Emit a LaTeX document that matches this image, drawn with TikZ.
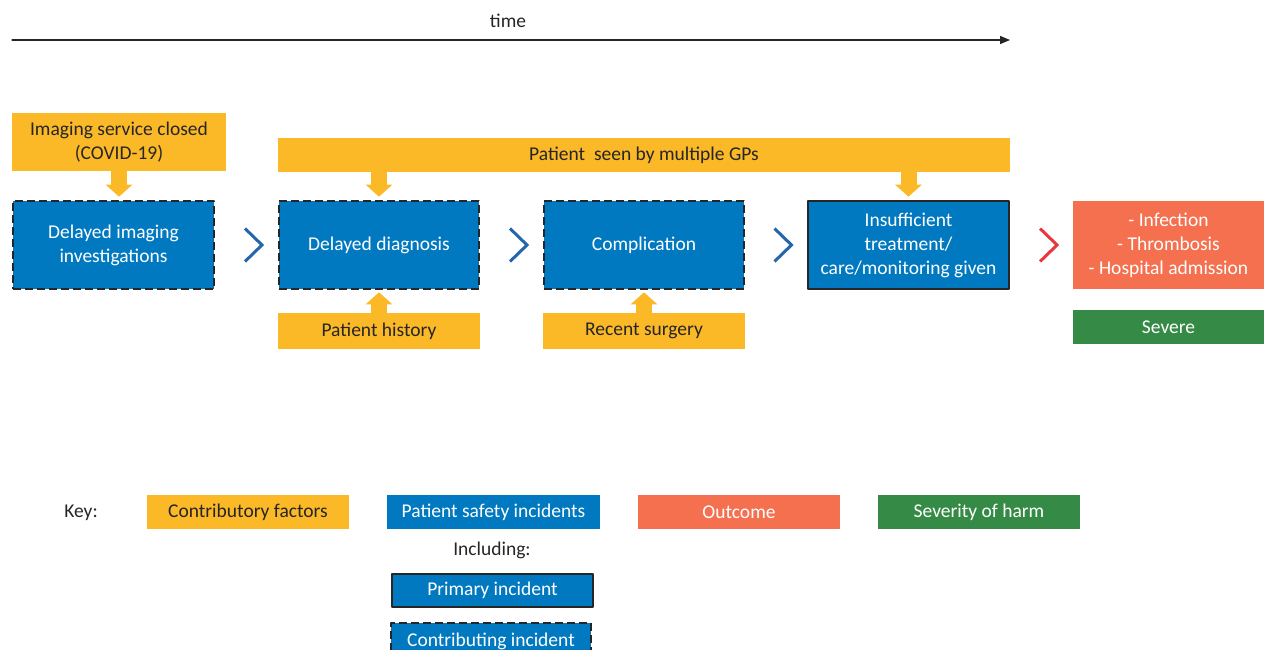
\documentclass[tikz,border=0pt]{standalone}
\usepackage{fontspec}
\setmainfont{Carlito}
\usetikzlibrary{arrows.meta,calc}
\definecolor{cfyellow}{HTML}{FBB827}
\definecolor{psiblue}{HTML}{0079C1}
\definecolor{outred}{HTML}{F4704F}
\definecolor{sevgreen}{HTML}{358B45}
\definecolor{chevblue}{HTML}{2466AD}
\definecolor{chevred}{HTML}{E8373D}
\definecolor{txtgray}{HTML}{262626}
\begin{document}
\begin{tikzpicture}[x=1pt,y=-1pt, line join=round, line cap=round, >=stealth,
  font=\fontsize{19.5}{24}\selectfont,
  box/.style={inner sep=0pt, align=center},
  factor/.style={box, fill=cfyellow, text=txtgray},
  incident/.style={box, fill=psiblue, text=white},
  contrib/.style={incident, draw=black!85, line width=2.6pt, dash pattern=on 8pt off 4pt, line cap=butt},
  primary/.style={incident, draw=black!85, line width=2.6pt},
  blockarrow/.style={cfyellow, line width=16pt, line cap=butt, -{Triangle[width=26pt,length=12pt]}},
  chev/.style={line width=3pt, line cap=butt, line join=miter}]
\useasboundingbox (0,0) rectangle (1264,650);
% time axis
\coordinate (t0) at (12,40);
\coordinate (t1) at (1010,40);
\draw[txtgray, line width=1.2pt, -{Triangle[width=8pt,length=10pt]}] (t0) -- (t1);
\node[text=txtgray] (time) at (508,21) {time};
% factors and incidents
\node[factor, minimum width=214, minimum height=58] (closed) at (119,142) {Imaging service closed\\(COVID-19)};
\node[factor, minimum width=732, minimum height=34] (gps) at (644,155) {Patient\ \ seen by multiple GPs};
\node[contrib, minimum width=201, minimum height=88] (imaging) at (113.5,245) {Delayed imaging\\investigations};
\node[contrib, minimum width=200, minimum height=88] (diag) at (379,245) {Delayed diagnosis};
\node[contrib, minimum width=200, minimum height=88] (compl) at (644,245) {Complication};
\node[primary, minimum width=201, minimum height=88] (treat) at (908.5,245) {Insufficient\\treatment/\\care/monitoring given};
\node[factor, minimum width=202, minimum height=36] (hist) at (379,331) {Patient history};
\node[factor, minimum width=202, minimum height=36] (surg) at (644,331) {Recent surgery};
\node[box, fill=outred, text=white, minimum width=191, minimum height=88] (outc) at (1168.5,245) {- Infection\\- Thrombosis\\- Hospital admission};
\node[box, fill=sevgreen, text=white, minimum width=191, minimum height=34] (sev) at (1168.5,327) {Severe};
% block arrows
\draw[blockarrow, shorten >=3pt] (closed.south) -- (closed.south |- imaging.north);
\draw[blockarrow, shorten >=3pt] (gps.south -| diag.north) -- (diag.north);
\draw[blockarrow, shorten >=3pt] (gps.south -| treat.north) -- (treat.north);
\draw[blockarrow, shorten >=2pt] (hist.north) -- (diag.south);
\draw[blockarrow, shorten >=2pt] (surg.north) -- (compl.south);
% chevrons
\foreach \a/\b/\c in {imaging/diag/chevblue, diag/compl/chevblue, compl/treat/chevblue, treat/outc/chevred}{
  \coordinate (m) at ($(\a.east)!0.5!(\b.west)$);
  \draw[chev, \c] ([shift={(-1.5,-16.5)}]m) -- ++(17,16.5) -- ++(-17,16.5);
}
% key
\node[text=txtgray] (key) at (81,513) {Key:};
\node[factor, minimum width=202, minimum height=34] (kcf) at (248,512) {Contributory factors};
\node[incident, minimum width=213, minimum height=34] (kpsi) at (493.5,512) {Patient safety incidents};
\node[box, fill=outred, text=white, minimum width=202, minimum height=34] (kout) at (739,512) {Outcome};
\node[box, fill=sevgreen, text=white, minimum width=202, minimum height=34] (ksev) at (979,512) {Severity of harm};
\node[text=txtgray] (incl) at (492,550) {Including:};
\node[primary, minimum width=201, minimum height=33] (kprim) at (492.5,590.5) {Primary incident};
\node[contrib, minimum width=200, minimum height=36] (kcontr) at (491,641) {Contributing incident};
\end{tikzpicture}
\end{document}
